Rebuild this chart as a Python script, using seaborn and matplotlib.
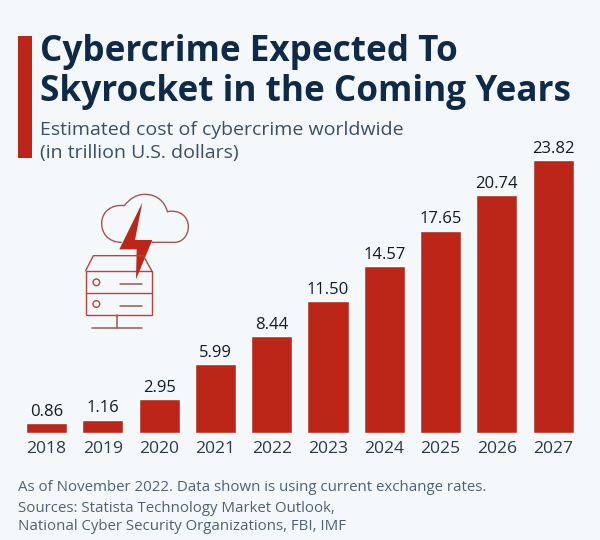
import matplotlib
matplotlib.use("Agg")
import matplotlib.pyplot as plt
import seaborn as sns
import pandas as pd
from matplotlib.patches import PathPatch, Polygon, Rectangle, Circle
from matplotlib.path import Path

years = ["2018", "2019", "2020", "2021", "2022", "2023", "2024", "2025", "2026", "2027"]
cost = [0.86, 1.16, 2.95, 5.99, 8.44, 11.50, 14.57, 17.65, 20.74, 23.82]
value_labels = ["0.86", "1.16", "2.95", "5.99", "8.44", "11.50", "14.57", "17.65", "20.74", "23.82"]

title = "Cybercrime Expected To\nSkyrocket in the Coming Years"
subtitle = "Estimated cost of cybercrime worldwide\n(in trillion U.S. dollars)"

BG = "#f5f8fb"
RED = "#bb2618"
NAVY = "#0f2a47"
LINE = "#a0564f"

sns.set_theme(style="white")
plt.rcParams["font.family"] = ["Open Sans", "DejaVu Sans"]

W, H = 600, 540
fig = plt.figure(figsize=(W / 100, H / 100), dpi=100, facecolor=BG)

# axes placed in pixels: baseline at y=433, 2027 bar top at y=161
left, right, top, bottom = 18.35, 581.35, 132, 433
ax = fig.add_axes([left / W, 1 - bottom / H, (right - left) / W, (bottom - top) / H])
ax.set_facecolor("none")

df = pd.DataFrame({"year": years, "cost": cost})
sns.barplot(data=df, x="year", y="cost", color=RED, saturation=1, width=0.73, ax=ax)
ax.set_xlim(-0.5, 9.5)
ax.set_ylim(0, 23.82 * 301 / 273)
ax.bar_label(ax.containers[0], labels=value_labels, padding=2.5, fontsize=12, color="#0e1a26")
ax.set_xlabel("")
ax.set_ylabel("")
ax.set_yticks([])
ax.tick_params(axis="x", length=0, pad=6, labelsize=12.6, labelcolor="#2b3a48")
sns.despine(ax=ax, left=True, bottom=True)

# overlay in pixel coordinates for the header, footer and icon
ov = fig.add_axes([0, 0, 1, 1])
ov.set_xlim(0, W)
ov.set_ylim(H, 0)
ov.axis("off")
ov.patch.set_alpha(0)

ov.add_patch(Rectangle((18, 36), 14, 122, color=RED, lw=0))
ov.text(40, 61, title.split("\n")[0], fontsize=25.3, fontweight="bold", color=NAVY, va="baseline")
ov.text(40, 101, title.split("\n")[1], fontsize=25.3, fontweight="bold", color=NAVY, va="baseline")
ov.text(40, 135, subtitle.split("\n")[0], fontsize=14, color="#3a4f63", va="baseline")
ov.text(40, 158, subtitle.split("\n")[1], fontsize=14, color="#3a4f63", va="baseline")

ov.text(18, 491, "As of November 2022. Data shown is using current exchange rates.", fontsize=10.85, color="#4f6172")
ov.text(18, 512, "Sources: Statista Technology Market Outlook,", fontsize=10.85, color="#4f6172")
ov.text(18, 530, "National Cyber Security Organizations, FBI, IMF", fontsize=10.85, color="#4f6172")


def ic(x, y):
    # icon was measured on a 3x crop starting at (80, 190)
    return (80 + x / 3, 190 + y / 3)


cloud = [(125, 157), (85, 157), (65, 130), (65, 100), (65, 65), (95, 42), (133, 47),
         (150, 25), (170, 13), (195, 13), (230, 13), (255, 35), (262, 65),
         (300, 58), (325, 80), (325, 110), (325, 138), (305, 157), (285, 157), (215, 157)]
codes = [Path.MOVETO] + [Path.CURVE4] * 18 + [Path.LINETO]
ov.add_patch(PathPatch(Path([ic(*p) for p in cloud], codes), fc="none", ec=LINE, lw=1))

roof = [(17, 242), (40, 197), (190, 197), (215, 242)]
ov.plot(*zip(*[ic(*p) for p in roof]), color="#b5453c", lw=1)
bx, by = ic(17, 242)
ov.add_patch(Rectangle((bx, by), 198 / 3, 133 / 3, fc="none", ec="#b5453c", lw=1))
ov.plot(*zip(ic(17, 310), ic(215, 310)), color="#b5453c", lw=1)
for cy, ly in [(277, 282), (342, 348)]:
    ov.add_patch(Circle(ic(49, cy), 10 / 3, fc="none", ec="#b5453c", lw=1))
    ov.plot(*zip(ic(120, ly), ic(187, ly)), color=LINE, lw=1.1)
ov.plot(*zip(ic(110, 375), ic(110, 413)), color=LINE, lw=1.1)
ov.plot(*zip(ic(35, 413), ic(187, 413)), color=LINE, lw=1.1)

bolt = [(187, 38), (118, 178), (170, 178), (168, 268), (217, 150), (165, 150)]
ov.add_patch(Polygon([ic(*p) for p in bolt], closed=True, fc=RED, ec="none"))

fig.savefig("out.png", dpi=100, facecolor=BG)
